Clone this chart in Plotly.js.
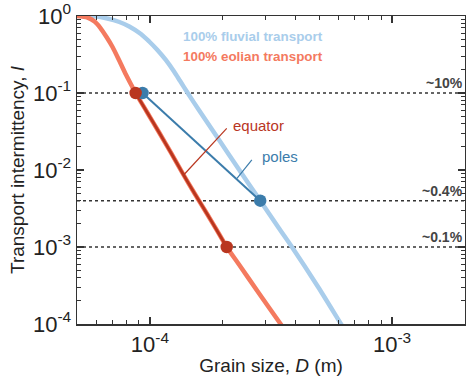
<!DOCTYPE html>
<html>
<head>
<meta charset="utf-8">
<script src="https://cdn.plot.ly/plotly-3.0.1.min.js"></script>
<style>html,body{margin:0;padding:0;background:#fff;}#chart{width:466px;height:377px;}</style>
</head>
<body>
<div id="chart"></div>
<script>
// Grain size D (m) and transport intermittency I
const fluvialD = [5.0e-5, 5.91e-5, 6.68e-5, 7.48e-5, 8.22e-5, 9.18e-5, 9.93e-5, 1.074e-4, 1.163e-4, 1.258e-4, 1.331e-4, 1.426e-4, 1.593e-4, 1.925e-4, 2.325e-4, 2.854e-4, 3.394e-4, 3.846e-4, 4.95e-4, 6.17e-4, 6.57e-4];
const fluvialI = [1.0, 0.991, 0.928, 0.836, 0.731, 0.584, 0.4665, 0.3618, 0.2685, 0.190, 0.144, 0.1021, 0.0601, 0.0249, 0.0103, 0.0040, 0.00179, 0.001015, 0.000302, 0.0000985, 0.000072];

const eolianD = [5.0e-5, 5.53e-5, 5.91e-5, 6.25e-5, 6.62e-5, 7.0e-5, 7.47e-5, 7.96e-5, 8.34e-5, 8.73e-5, 9.75e-5, 1.092e-4, 1.223e-4, 1.378e-4, 1.534e-4, 1.718e-4, 1.889e-4, 2.076e-4, 2.325e-4, 2.81e-4, 3.5e-4, 3.73e-4];
const eolianI = [1.0, 0.956, 0.848, 0.698, 0.534, 0.399, 0.2643, 0.1739, 0.1309, 0.10, 0.0558, 0.0307, 0.01663, 0.00861, 0.00488, 0.002723, 0.001653, 0.0010, 0.000601, 0.000255, 0.0000956, 0.000072];

// equator segment (dark red) along eolian curve
const equatorD = [8.73e-5, 9.75e-5, 1.092e-4, 1.223e-4, 1.378e-4, 1.534e-4, 1.718e-4, 1.889e-4, 2.076e-4];
const equatorI = [0.10, 0.0558, 0.0307, 0.01663, 0.00861, 0.00488, 0.002723, 0.001653, 0.0010];

// poles line (blue) between two points
const polesD = [9.32e-5, 2.854e-4];
const polesI = [0.1, 0.004];

// equator markers
const equatorDotD = [8.73e-5, 2.076e-4];
const equatorDotI = [0.1, 0.001];

// threshold lines
const thresholds = [0.1, 0.004, 0.001];
const thresholdLabels = ["~10%", "~0.4%", "~0.1%"];
const xRange = [5e-5, 2e-3];

// leader lines for labels
const equatorLeadD = [1.378e-4, 2.076e-4];
const equatorLeadI = [0.00861, 0.0348];
const polesLeadD = [2.288e-4, 2.636e-4];
const polesLeadI = [0.0078, 0.01349];

// ticks
const majorX = [1e-4, 1e-3];
const majorXText = ["10<sup>-4</sup>", "10<sup>-3</sup>"];
const majorY = [1, 0.1, 0.01, 0.001, 0.0001];
const majorYText = ["10<sup>0</sup>", "10<sup>-1</sup>", "10<sup>-2</sup>", "10<sup>-3</sup>", "10<sup>-4</sup>"];

const C_FLU = '#a9cdeb', C_EOL = '#f47a5f', C_EQ = '#b9361f', C_POL = '#3b7cab';
const FONT = 'Liberation Sans, Arial, sans-serif';

function minorLog(lo, hi) {
  const out = [];
  for (let e = Math.floor(Math.log10(lo)); e <= Math.ceil(Math.log10(hi)); e++) {
    for (let m = 2; m <= 9; m++) {
      const v = m * Math.pow(10, e);
      if (v >= lo * 0.999 && v <= hi * 1.001) out.push(v);
    }
  }
  return out;
}

const traces = [];
thresholds.forEach(t => {
  traces.push({x: xRange, y: [t, t], mode: 'lines', line: {color: '#333', width: 1.5, dash: 'dot'}, hoverinfo: 'skip'});
});
traces.push({x: fluvialD, y: fluvialI, mode: 'lines', line: {color: C_FLU, width: 4.5, shape: 'spline', smoothing: 0.8}});
traces.push({x: eolianD, y: eolianI, mode: 'lines', line: {color: C_EOL, width: 4.5, shape: 'spline', smoothing: 0.8}});
traces.push({x: equatorD, y: equatorI, mode: 'lines', line: {color: C_EQ, width: 2.8, shape: 'spline', smoothing: 0.8}});
traces.push({x: polesD, y: polesI, mode: 'lines', line: {color: C_POL, width: 2}});
traces.push({x: equatorLeadD, y: equatorLeadI, mode: 'lines', line: {color: C_EQ, width: 1.2}});
traces.push({x: polesLeadD, y: polesLeadI, mode: 'lines', line: {color: C_POL, width: 1.2}});
traces.push({x: polesD, y: polesI, mode: 'markers', marker: {color: C_POL, size: 12.5}});
traces.push({x: equatorDotD, y: equatorDotI, mode: 'markers', marker: {color: C_EQ, size: 12.5}});

const annotations = thresholds.map((t, i) => ({
  xref: 'paper', yref: 'y', x: 1, y: Math.log10(t), xanchor: 'right', yanchor: 'bottom',
  text: '<b>' + thresholdLabels[i] + '</b>', showarrow: false,
  font: {family: FONT, size: 14, color: '#444'}
}));
annotations.push({xref: 'x', yref: 'y', x: -3.8728, y: -0.2597, xanchor: 'left', yanchor: 'middle', showarrow: false,
  text: '<b>100% fluvial transport</b>', font: {family: FONT, size: 13.4, color: C_FLU}});
annotations.push({xref: 'x', yref: 'y', x: -3.8728, y: -0.5286, xanchor: 'left', yanchor: 'middle', showarrow: false,
  text: '<b>100% eolian transport</b>', font: {family: FONT, size: 13.4, color: C_EOL}});
annotations.push({xref: 'x', yref: 'y', x: -3.6664, y: -1.4156, xanchor: 'left', yanchor: 'middle', showarrow: false,
  text: 'equator', font: {family: FONT, size: 15, color: C_EQ}});
annotations.push({xref: 'x', yref: 'y', x: -3.5445, y: -1.827, xanchor: 'left', yanchor: 'middle', showarrow: false,
  text: 'poles', font: {family: FONT, size: 15, color: C_POL}});

const axisCommon = {
  type: 'log', showgrid: false, zeroline: false, showline: true, linecolor: '#333', linewidth: 1.5,
  mirror: 'ticks', ticks: 'inside', ticklen: 7, tickwidth: 1.2, tickcolor: '#333',
  tickmode: 'array',
  tickfont: {family: FONT, size: 22, color: '#222'}
};

const layout = {
  width: 466, height: 377,
  margin: {l: 77, r: 1, t: 16, b: 53},
  paper_bgcolor: '#fff', plot_bgcolor: '#fff',
  showlegend: false,
  xaxis: Object.assign({}, axisCommon, {
    range: [Math.log10(xRange[0]), Math.log10(xRange[1])],
    tickvals: majorX, ticktext: majorXText,
    minor: {tickmode: 'array', tickvals: minorLog(xRange[0], xRange[1]), ticks: 'inside', ticklen: 4, tickwidth: 1, tickcolor: '#333'},
    title: {text: 'Grain size, <i>D</i> (m)', standoff: 3, font: {family: FONT, size: 19, color: '#222'}}
  }),
  yaxis: Object.assign({}, axisCommon, {
    range: [-4, 0],
    tickvals: majorY, ticktext: majorYText,
    minor: {tickmode: 'array', tickvals: minorLog(1e-4, 1), ticks: 'inside', ticklen: 4, tickwidth: 1, tickcolor: '#333'},
    title: {text: 'Transport intermittency, <i>I</i>', standoff: 3, font: {family: FONT, size: 19, color: '#222'}}
  }),
  annotations: annotations
};

Plotly.newPlot('chart', traces, layout, {displayModeBar: false, staticPlot: true});
</script>
</body>
</html>
